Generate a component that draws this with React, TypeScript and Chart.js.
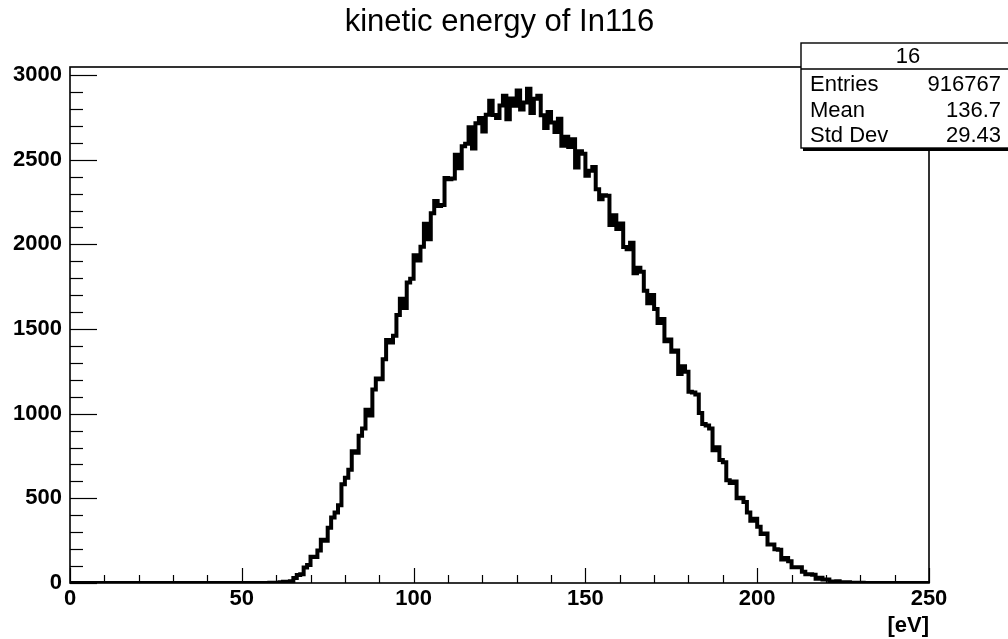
import React, { useEffect, useRef } from "react";
import { Chart, registerables } from "chart.js";

Chart.register(...registerables);

const TITLE = "kinetic energy of In116";
const X_UNIT = "[eV]";
const BIN_WIDTH = 1; // eV per bin
const X_MIN = 0;
const X_MAX = 250;
const Y_MIN = 0;
const Y_MAX = 3048;
const X_TICKS = [0, 50, 100, 150, 200, 250];
const Y_TICKS = [0, 500, 1000, 1500, 2000, 2500, 3000];
const X_MINOR_STEP = 10;
const Y_MINOR_STEP = 100;

// counts per 1 eV bin, bins 0..249
const COUNTS = [
  0, 0, 0, 0, 0, 0, 0, 0, 0, 0,
  0, 0, 0, 0, 0, 0, 0, 0, 0, 0,
  0, 0, 0, 0, 0, 0, 0, 0, 0, 0,
  0, 0, 0, 0, 0, 0, 0, 0, 0, 0,
  0, 0, 0, 0, 0, 0, 0, 0, 0, 0,
  0, 0, 0, 0, 0, 0, 0, 0, 0, 1,
  2, 0, 4, 8, 7, 11, 29, 47, 52, 91,
  107, 155, 153, 192, 256, 249, 327, 387, 416, 459,
  584, 622, 669, 778, 769, 870, 912, 1023, 990, 1143,
  1208, 1203, 1321, 1436, 1421, 1461, 1583, 1679, 1624, 1775,
  1797, 1936, 1905, 1986, 2122, 2031, 2184, 2257, 2227, 2233,
  2393, 2385, 2390, 2529, 2450, 2580, 2595, 2692, 2567, 2716,
  2747, 2667, 2766, 2849, 2764, 2747, 2821, 2878, 2740, 2862,
  2819, 2909, 2797, 2839, 2920, 2776, 2861, 2878, 2763, 2687,
  2782, 2720, 2664, 2742, 2583, 2636, 2575, 2621, 2454, 2550,
  2535, 2405, 2435, 2458, 2326, 2267, 2290, 2287, 2115, 2173,
  2091, 2124, 1985, 1971, 2010, 1829, 1862, 1838, 1726, 1652,
  1701, 1619, 1536, 1559, 1428, 1439, 1366, 1374, 1234, 1280,
  1248, 1129, 1125, 1114, 1004, 939, 931, 913, 784, 802,
  727, 714, 607, 590, 600, 500, 504, 479, 416, 367,
  379, 332, 290, 293, 228, 227, 199, 196, 139, 148,
  129, 93, 93, 93, 66, 52, 51, 49, 25, 31,
  21, 21, 9, 8, 10, 2, 5, 5, 1, 0,
  2, 1, 0, 0, 0, 0, 0, 0, 0, 0,
  0, 0, 0, 0, 0, 0, 0, 0, 0, 0,
];

const STATS_NAME = "16";
const STATS_LABELS = ["Entries", "Mean", "Std Dev"];
const STATS_VALUES = ["916767", "136.7", "29.43"];

const FONT = "'Liberation Sans', Arial, Helvetica, sans-serif";

const rootStyle = {
  id: "rootStyle",
  afterDatasetsDraw(chart: any) {
    const { ctx, chartArea, scales } = chart;
    const { left, right, top, bottom } = chartArea;
    const x = scales.x;
    const y = scales.y;
    ctx.save();
    ctx.strokeStyle = "#000";
    ctx.lineWidth = 1.2;
    // x ticks (inside, upward)
    for (let v = X_MIN; v <= X_MAX; v += X_MINOR_STEP) {
      const px = Math.round(x.getPixelForValue(v)) + 0.5;
      const len = X_TICKS.includes(v) ? 15 : 8;
      ctx.beginPath();
      ctx.moveTo(px, bottom);
      ctx.lineTo(px, bottom - len);
      ctx.stroke();
    }
    // y ticks (inside, rightward)
    for (let v = Y_MIN; v <= Y_MAX; v += Y_MINOR_STEP) {
      const py = Math.round(y.getPixelForValue(v)) + 0.5;
      const len = Y_TICKS.includes(v) ? 27 : 13;
      ctx.beginPath();
      ctx.moveTo(left, py);
      ctx.lineTo(left + len, py);
      ctx.stroke();
    }
    // frame
    ctx.lineWidth = 1.6;
    ctx.strokeRect(left, top, right - left, bottom - top);

    // stats box
    const bx = 801, by = 43, bw = 212, bh = 105;
    ctx.fillStyle = "#000";
    ctx.fillRect(bx + 2, by + 2, bw, bh + 1);
    ctx.fillStyle = "#fff";
    ctx.fillRect(bx, by, bw, bh);
    ctx.lineWidth = 1.4;
    ctx.strokeRect(bx, by, bw, bh);
    ctx.beginPath();
    ctx.moveTo(bx, 69);
    ctx.lineTo(bx + bw, 69);
    ctx.stroke();
    ctx.fillStyle = "#000";
    ctx.font = `22px ${FONT}`;
    ctx.textBaseline = "middle";
    ctx.textAlign = "center";
    ctx.fillText(STATS_NAME, 908, 57);
    const rows = [85, 111, 136];
    STATS_LABELS.forEach((lab, i) => {
      ctx.textAlign = "left";
      ctx.fillText(lab, 810, rows[i]);
      ctx.textAlign = "right";
      ctx.fillText(STATS_VALUES[i], 1001, rows[i]);
    });
    ctx.restore();
  },
};

export default function App() {
  const ref = useRef<HTMLCanvasElement | null>(null);
  useEffect(() => {
    if (!ref.current) return;
    const points = COUNTS.map((c, i) => ({ x: X_MIN + i * BIN_WIDTH, y: c }));
    points.push({ x: X_MIN + COUNTS.length * BIN_WIDTH, y: COUNTS[COUNTS.length - 1] });
    const chart = new Chart(ref.current, {
      type: "line",
      data: {
        datasets: [
          {
            data: points,
            stepped: "after",
            borderColor: "#000",
            borderWidth: 4,
            borderJoinStyle: "miter",
            pointRadius: 0,
            fill: false,
          },
        ],
      },
      options: {
        animation: false,
        responsive: false,
        devicePixelRatio: 1,
        layout: { padding: { left: 0, right: 79, top: 0, bottom: 0 } },
        plugins: {
          legend: { display: false },
          tooltip: { enabled: false },
          title: {
            display: true,
            text: TITLE,
            fullSize: false,
            color: "#000",
            font: { family: FONT, size: 31, weight: "normal", lineHeight: 1.2 },
            padding: { top: 4, bottom: 25.8 },
          },
        },
        scales: {
          x: {
            type: "linear",
            min: X_MIN,
            max: X_MAX,
            grid: { display: false, drawTicks: false },
            border: { display: false },
            afterBuildTicks: (s: any) => {
              s.ticks = X_TICKS.map((v) => ({ value: v }));
            },
            afterFit: (s: any) => {
              s.height = 56;
            },
            ticks: {
              color: "#000",
              padding: 3,
              maxRotation: 0,
              autoSkip: false,
              callback: (v: any) => String(v),
              font: { family: FONT, size: 22, weight: "bold" },
            },
            title: {
              display: true,
              text: X_UNIT,
              align: "end",
              color: "#000",
              font: { family: FONT, size: 22, weight: "bold" },
              padding: { top: 0, bottom: 0 },
            },
          },
          y: {
            type: "linear",
            min: Y_MIN,
            max: Y_MAX,
            grid: { display: false, drawTicks: false },
            border: { display: false },
            afterBuildTicks: (s: any) => {
              s.ticks = Y_TICKS.map((v) => ({ value: v }));
            },
            afterFit: (s: any) => {
              s.width = 70;
            },
            ticks: {
              color: "#000",
              padding: 8,
              autoSkip: false,
              callback: (v: any) => String(v),
              font: { family: FONT, size: 22, weight: "bold" },
            },
          },
        },
      },
      plugins: [rootStyle],
    } as any);
    return () => chart.destroy();
  }, []);
  return (
    <div style={{ position: "fixed", left: 0, top: 0, width: 1008, height: 639, background: "#fff" }}>
      <canvas ref={ref} width={1008} height={639} style={{ display: "block" }} />
    </div>
  );
}
